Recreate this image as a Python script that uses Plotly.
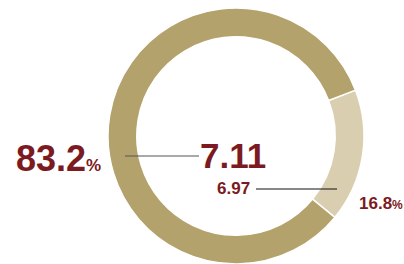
import plotly.graph_objects as go

labels = ["Minor share", "Major share"]
shares = [16.8, 83.2]
slice_colors = ["#D9CFB0", "#B3A26B"]
center_main = "7.11"
center_sub = "6.97"

W, H = 404, 264
cx, cy, R = 236, 136, 128  # pixel geometry of the donut
FONT = "Liberation Sans Narrow, Liberation Sans, Arial, sans-serif"
RED = "#7B1A20"

fig = go.Figure(go.Pie(
    labels=labels,
    values=shares,
    hole=0.775,
    sort=False,
    direction="clockwise",
    rotation=69,
    marker=dict(colors=slice_colors, line=dict(color="white", width=1.5)),
    textinfo="none",
    hoverinfo="label+percent",
    showlegend=False,
    domain=dict(x=[(cx - R) / W, (cx + R) / W], y=[(H - cy - R) / H, (H - cy + R) / H]),
))

def px(x):
    return x / W

def py(y):
    return 1 - y / H

annots = [
    dict(x=px(102), y=py(180), text=f"<b>{shares[1]}<span style='font-size:17px'>%</span></b>",
         font=dict(size=36, color=RED, family=FONT), xanchor="right", yanchor="bottom"),
    dict(x=px(233), y=py(176), text=f"<b>{center_main}</b>",
         font=dict(size=35, color=RED, family=FONT), xanchor="center", yanchor="bottom"),
    dict(x=px(251), y=py(199), text=f"<b>{center_sub}</b>",
         font=dict(size=17, color=RED, family=FONT), xanchor="right", yanchor="bottom"),
    dict(x=px(404), y=py(214), text=f"<b>{shares[0]}<span style='font-size:12px'>%</span></b>",
         font=dict(size=17, color=RED, family=FONT), xanchor="right", yanchor="bottom"),
]
for a in annots:
    a.update(xref="paper", yref="paper", showarrow=False, borderpad=0)

shapes = [
    dict(type="line", xref="paper", yref="paper", x0=px(125), x1=px(199), y0=py(156), y1=py(156),
         line=dict(color="#555555", width=1.2)),
    dict(type="line", xref="paper", yref="paper", x0=px(256), x1=px(337), y0=py(189), y1=py(189),
         line=dict(color="#111111", width=1.2)),
]

fig.update_layout(
    width=W, height=H,
    margin=dict(l=0, r=0, t=0, b=0),
    paper_bgcolor="white", plot_bgcolor="white",
    annotations=annots, shapes=shapes,
)

fig.write_html("out.html", config={"displayModeBar": False},
               post_script="document.body.style.margin='0';document.body.style.overflow='hidden';")
